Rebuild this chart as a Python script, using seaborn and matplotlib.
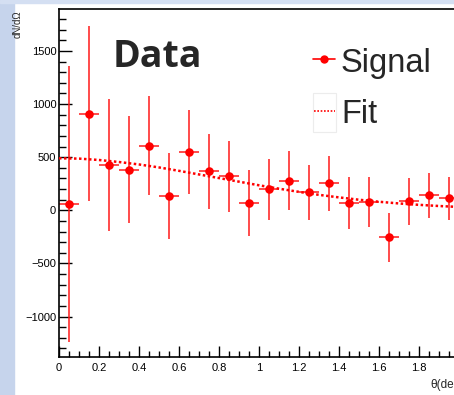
import matplotlib
matplotlib.use("Agg")
import numpy as np
import pandas as pd
import matplotlib.pyplot as plt
import seaborn as sns
from matplotlib.lines import Line2D
from matplotlib.patches import Rectangle
from matplotlib.ticker import MultipleLocator

# measured signal per theta bin (bin width 0.1 deg)
theta = [0.05, 0.15, 0.25, 0.35, 0.45, 0.55, 0.65, 0.75, 0.85, 0.95,
         1.05, 1.15, 1.25, 1.35, 1.45, 1.55, 1.65, 1.75, 1.85, 1.95]
signal = [60, 910, 430, 384, 610, 131, 553, 366, 319, 66,
          197, 281, 169, 253, 66, 75, -253, 84, 141, 113]
signal_err = [1300, 825, 620, 507, 470, 405, 395, 356, 330, 310,
              290, 282, 262, 263, 245, 235, 232, 225, 215, 205]
half_width = [0.05] * len(theta)

# fit curve
fit_theta = [0.0, 0.1, 0.2, 0.3, 0.4, 0.5, 0.6, 0.7, 0.8, 0.9, 1.0,
             1.1, 1.2, 1.3, 1.4, 1.5, 1.6, 1.7, 1.8, 1.9, 2.0]
fit_val = [490, 487, 474, 455, 432, 404, 372, 338, 304, 270, 236,
           204, 174, 146, 122, 100, 81, 65, 52, 41, 32]

sns.set_style("ticks")
plt.rcParams["font.family"] = ["Liberation Sans", "DejaVu Sans"]

W, H = 454, 395
fig = plt.figure(figsize=(W / 100, H / 100), dpi=100)

# slide background strips
fig.add_artist(Rectangle((0, 0), 14 / W, 1, transform=fig.transFigure,
                         color="#c6d4ec", zorder=-5))
fig.add_artist(Rectangle((0, (H - 3) / H), 1, 3 / H, transform=fig.transFigure,
                         color="#d4dff2", zorder=-5))

ax = fig.add_axes([59 / W, 38 / H, 400 / W, 348 / H])

df = pd.DataFrame({"theta": theta, "signal": signal})
fit_df = pd.DataFrame({"theta": fit_theta, "fit": fit_val})

ax.errorbar(theta, signal, yerr=signal_err, xerr=half_width, fmt="none",
            ecolor="#ff1a1a", elinewidth=1.1, capsize=0, zorder=2)
sns.scatterplot(data=df, x="theta", y="signal", ax=ax, color="#ff0000",
                s=38, edgecolor="#ff0000", linewidth=0, zorder=3, legend=False)
sns.lineplot(data=fit_df, x="theta", y="fit", ax=ax, color="#ff0000",
             linewidth=1.8, linestyle=(0, (1, 1)), zorder=4, legend=False)

ax.set_xlim(0, 2)
ax.set_ylim(-1380, 1895)
ax.xaxis.set_major_locator(MultipleLocator(0.2))
ax.xaxis.set_minor_locator(MultipleLocator(0.05))
ax.yaxis.set_major_locator(MultipleLocator(500))
ax.yaxis.set_minor_locator(MultipleLocator(100))
ax.set_xticks([0, 0.2, 0.4, 0.6, 0.8, 1.0, 1.2, 1.4, 1.6, 1.8])
ax.set_xticklabels(["0", "0.2", "0.4", "0.6", "0.8", "1", "1.2", "1.4", "1.6", "1.8"])
ax.tick_params(axis="both", which="both", direction="in", width=1,
               colors="black", labelsize=8)
ax.tick_params(axis="y", which="major", length=9.5, pad=2)
ax.tick_params(axis="y", which="minor", length=5)
ax.tick_params(axis="x", which="major", length=7.7, pad=4)
ax.tick_params(axis="x", which="minor", length=4)
for side in ["top", "right", "bottom", "left"]:
    ax.spines[side].set_visible(True)
    ax.spines[side].set_linewidth(1.2)
    ax.spines[side].set_color("black")
ax.set_xlabel("")
ax.set_ylabel("")

fig.text(18 / W, (H - 10) / H, "dN/dΩ", rotation=90, ha="center", va="top",
         fontsize=7)
# axis title runs past the right edge, as in the original slide
fig.text(430 / W, (H - 388) / H, "θ(deg)", ha="left", va="baseline", fontsize=8.5)

fig.text(113 / W, (H - 67) / H, "Data", ha="left", va="baseline",
         fontsize=27, fontweight="bold", family=["Open Sans", "DejaVu Sans"])

# legend
fig.add_artist(Line2D([313 / W, 324 / W, 335 / W], [(H - 59) / H] * 3,
                      transform=fig.transFigure, color="#ff0000", linewidth=1.2,
                      marker="o", markersize=5, markevery=[1]))
fig.add_artist(Rectangle((313 / W, (H - 132) / H), 23 / W, 39 / H,
                         transform=fig.transFigure, facecolor="none",
                         edgecolor="#ececec", linewidth=0.8))
fig.add_artist(Line2D([314 / W, 335 / W], [(H - 111) / H] * 2,
                      transform=fig.transFigure, color="#ff0000", linewidth=1.2,
                      linestyle=(0, (1, 1))))
fig.text(341 / W, (H - 72) / H, "Signal", ha="left", va="baseline", fontsize=23.5)
fig.text(341 / W, (H - 123) / H, "Fit", ha="left", va="baseline", fontsize=23.5)

fig.savefig("out.png", dpi=100)
